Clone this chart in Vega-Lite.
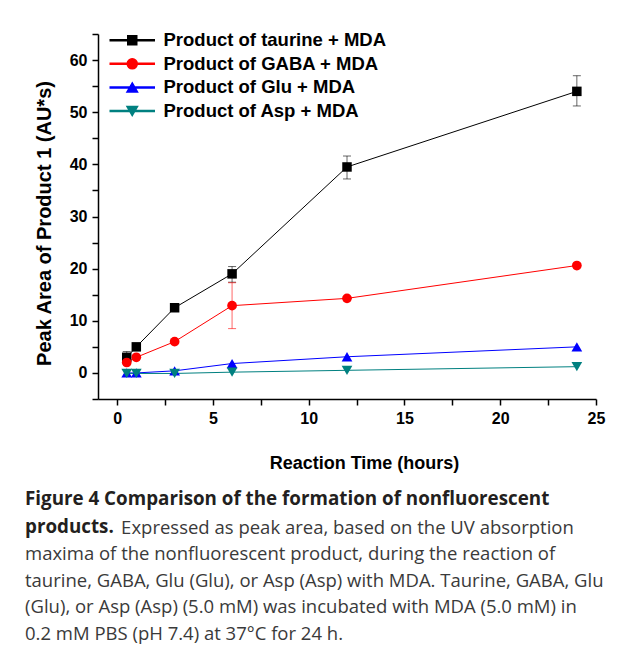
{
  "$schema": "https://vega.github.io/schema/vega-lite/v6.json",
  "width": 498,
  "height": 365,
  "autosize": {"type": "none"},
  "padding": {"left": 98, "top": 34, "right": 33, "bottom": 250},
  "background": "white",
  "datasets": {
    "pts": [
      {"series": "Product of taurine + MDA", "time": 0.5, "value": 3},
      {"series": "Product of taurine + MDA", "time": 1, "value": 5},
      {"series": "Product of taurine + MDA", "time": 3, "value": 12.5},
      {"series": "Product of taurine + MDA", "time": 6, "value": 19},
      {"series": "Product of taurine + MDA", "time": 12, "value": 39.5},
      {"series": "Product of taurine + MDA", "time": 24, "value": 54},
      {"series": "Product of GABA + MDA", "time": 0.5, "value": 2},
      {"series": "Product of GABA + MDA", "time": 1, "value": 3},
      {"series": "Product of GABA + MDA", "time": 3, "value": 6},
      {"series": "Product of GABA + MDA", "time": 6, "value": 12.9},
      {"series": "Product of GABA + MDA", "time": 12, "value": 14.3},
      {"series": "Product of GABA + MDA", "time": 24, "value": 20.6},
      {"series": "Product of Glu + MDA", "time": 0.5, "value": 0},
      {"series": "Product of Glu + MDA", "time": 1, "value": 0},
      {"series": "Product of Glu + MDA", "time": 3, "value": 0.4},
      {"series": "Product of Glu + MDA", "time": 6, "value": 1.8},
      {"series": "Product of Glu + MDA", "time": 12, "value": 3.1},
      {"series": "Product of Glu + MDA", "time": 24, "value": 5.0},
      {"series": "Product of Asp + MDA", "time": 0.5, "value": -0.1},
      {"series": "Product of Asp + MDA", "time": 1, "value": -0.1},
      {"series": "Product of Asp + MDA", "time": 3, "value": -0.1},
      {"series": "Product of Asp + MDA", "time": 6, "value": 0.15},
      {"series": "Product of Asp + MDA", "time": 12, "value": 0.5},
      {"series": "Product of Asp + MDA", "time": 24, "value": 1.2}
    ],
    "errs": [
      {"series": "Product of taurine + MDA", "time": 0.5, "value": 3, "err": 1.1},
      {"series": "Product of taurine + MDA", "time": 6, "value": 18.9, "err": 1.5},
      {"series": "Product of taurine + MDA", "time": 12, "value": 39.4, "err": 2.2},
      {"series": "Product of taurine + MDA", "time": 24, "value": 54.1, "err": 2.9},
      {"series": "Product of GABA + MDA", "time": 6, "value": 12.9, "err": 4.4}
    ]
  },
  "title": {
    "text": ["Figure 4 Comparison of the formation of nonfluorescent", "products."],
    "subtitle": [
      "\u200b\u00a0\u00a0\u00a0\u00a0\u00a0\u00a0\u00a0\u00a0\u00a0\u00a0\u00a0\u00a0\u00a0\u00a0\u00a0\u00a0\u00a0\u00a0\u00a0\u00a0Expressed as peak area, based on the UV absorption",
      "maxima of the nonfluorescent product, during the reaction of",
      "taurine, GABA, Glu (Glu), or Asp (Asp) with MDA. Taurine, GABA, Glu",
      "(Glu), or Asp (Asp) (5.0 mM) was incubated with MDA (5.0 mM) in",
      "0.2 mM PBS (pH 7.4) at 37°C for 24 h."
    ],
    "orient": "bottom",
    "anchor": "start",
    "frame": "group",
    "dx": -73,
    "offset": 18,
    "font": "Open Sans",
    "fontSize": 18.8,
    "fontWeight": "bold",
    "color": "#231f20",
    "lineHeight": 28,
    "subtitleFont": "Open Sans",
    "subtitleFontSize": 18.5,
    "subtitleFontWeight": "normal",
    "subtitleColor": "#3a3a3a",
    "subtitleLineHeight": 26.5,
    "subtitlePadding": -18
  },
  "encoding": {
    "x": {
      "field": "time",
      "type": "quantitative",
      "scale": {"domain": [-1, 25], "nice": false, "zero": false},
      "axis": {
        "values": [0, 2.5, 5, 7.5, 10, 12.5, 15, 17.5, 20, 22.5, 25],
        "labelExpr": "datum.value % 5 === 0 ? datum.label : ''",
        "labelPadding": 5,
        "labelFlush": false,
        "labelOverlap": false,
        "title": "Reaction Time (hours)",
        "titleFontSize": 18,
        "titleX": 266,
        "titleY": 64,
        "titleBaseline": "middle"
      }
    },
    "y": {
      "field": "value",
      "type": "quantitative",
      "scale": {"domain": [-5, 65], "nice": false, "zero": false},
      "axis": {
        "values": [-5, 0, 5, 10, 15, 20, 25, 30, 35, 40, 45, 50, 55, 60, 65],
        "labelExpr": "datum.value % 10 === 0 ? datum.label : ''",
        "labelPadding": 5,
        "labelOverlap": false,
        "title": "Peak Area of Product 1 (AU*s)",
        "titleFontSize": 20,
        "titleX": -54,
        "titleY": 189,
        "titleBaseline": "middle"
      }
    },
    "color": {
      "field": "series",
      "type": "nominal",
      "sort": null,
      "scale": {
        "domain": ["Product of taurine + MDA", "Product of GABA + MDA", "Product of Glu + MDA", "Product of Asp + MDA"],
        "range": ["#000000", "#ff0000", "#0000ff", "#008080"]
      }
    }
  },
  "layer": [
    {
      "data": {"name": "pts"},
      "mark": {"type": "line", "strokeWidth": 1}
    },
    {
      "data": {"name": "errs"},
      "mark": {
        "type": "errorbar",
        "ticks": {"size": 8, "thickness": 1, "opacity": 0.6},
        "rule": {"strokeWidth": 1, "opacity": 0.6}
      },
      "encoding": {
        "yError": {"field": "err"}
      }
    },
    {
      "data": {"name": "pts"},
      "transform": [{"filter": "datum.series === 'Product of taurine + MDA'"}],
      "mark": {"type": "point", "filled": true, "opacity": 1, "size": 90, "shape": "square"}
    },
    {
      "data": {"name": "pts"},
      "transform": [{"filter": "datum.series === 'Product of GABA + MDA'"}],
      "mark": {"type": "point", "filled": true, "opacity": 1, "size": 95, "shape": "circle"}
    },
    {
      "data": {"name": "pts"},
      "transform": [{"filter": "datum.series === 'Product of Glu + MDA'"}],
      "mark": {"type": "point", "filled": true, "opacity": 1, "size": 115, "shape": "triangle-up"}
    },
    {
      "data": {"name": "pts"},
      "transform": [{"filter": "datum.series === 'Product of Asp + MDA'"}],
      "mark": {"type": "point", "filled": true, "opacity": 1, "size": 115, "shape": "triangle-down"}
    },
    {
      "data": {"name": "pts"},
      "transform": [{"filter": "false"}],
      "mark": {"type": "point", "filled": true, "opacity": 1, "size": 100},
      "encoding": {
        "shape": {
          "field": "series",
          "type": "nominal",
          "sort": null,
          "scale": {
            "domain": ["Product of taurine + MDA", "Product of GABA + MDA", "Product of Glu + MDA", "Product of Asp + MDA"],
            "range": [
              "M-4.4,-0.1H4.4V0.1H-4.4ZM-0.9,-0.9H0.9V0.9H-0.9Z",
              "M-4.4,-0.1H4.4V0.1H-4.4ZM-1,0A1,1,0,1,1,1,0A1,1,0,1,1,-1,0Z",
              "M-4.4,-0.1H4.4V0.1H-4.4ZM0,-0.9L1.05,0.9L-1.05,0.9Z",
              "M-4.4,-0.1H4.4V0.1H-4.4ZM0,0.9L-1.05,-0.9L1.05,-0.9Z"
            ]
          }
        }
      }
    }
  ],
  "config": {
    "view": {"stroke": null},
    "axis": {
      "grid": false,
      "domainColor": "black",
      "domainWidth": 1.5,
      "tickColor": "black",
      "tickWidth": 1.5,
      "tickSize": 6,
      "labelFont": "Liberation Sans",
      "labelFontWeight": "bold",
      "labelFontSize": 16,
      "labelColor": "black",
      "titleFont": "Liberation Sans",
      "titleFontWeight": "bold",
      "titleColor": "black"
    },
    "legend": {
      "title": null,
      "orient": "none",
      "legendX": 25,
      "legendY": -3,
      "padding": 0,
      "symbolSize": 100,
      "symbolOpacity": 1,
      "labelOffset": 22,
      "rowPadding": 4.6,
      "labelFont": "Liberation Sans",
      "labelFontSize": 18.5,
      "labelFontWeight": "bold",
      "labelColor": "black",
      "labelLimit": 400
    }
  }
}
